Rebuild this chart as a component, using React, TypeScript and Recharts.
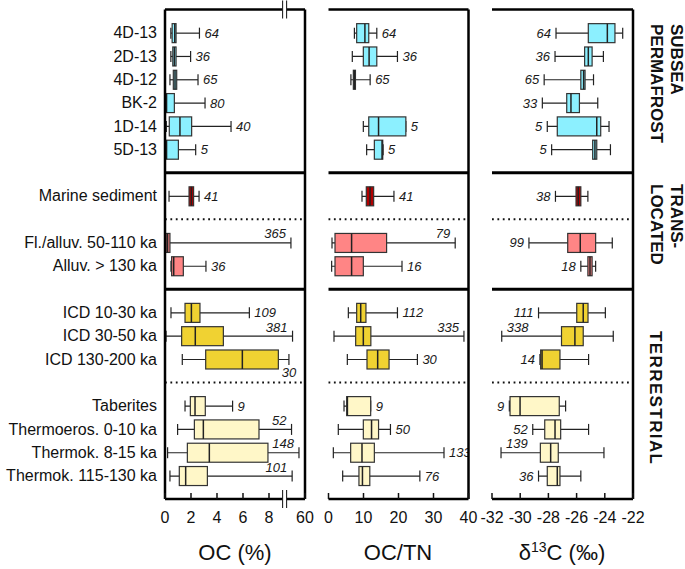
import React from "react";
import { ComposedChart, Bar, XAxis, YAxis, ReferenceLine } from "recharts";

// ---- data ----
const rows = [
  "4D-13",
  "2D-13",
  "4D-12",
  "BK-2",
  "1D-14",
  "5D-13",
  "Marine sediment",
  "Fl./alluv. 50-110 ka",
  "Alluv. > 130 ka",
  "ICD 10-30 ka",
  "ICD 30-50 ka",
  "ICD 130-200 ka",
  "Taberites",
  "Thermoeros. 0-10 ka",
  "Thermok. 8-15 ka",
  "Thermok. 115-130 ka",
];

// [min, q1, median, q3, max]
const ocStats = [
  [0.45, 0.55, 0.75, 0.85, 2.65],
  [0.45, 0.6, 0.72, 0.85, 1.97],
  [0.38, 0.64, 0.77, 0.9, 2.54],
  [0.03, 0.08, 0.12, 0.72, 3.08],
  [0.1, 0.33, 1.15, 2.05, 5.08],
  [0.05, 0.08, 0.12, 1.03, 2.36],
  [0.31, 1.85, 2.03, 2.2, 2.62],
  [0.05, 0.08, 0.2, 0.38, 25],
  [0.46, 0.51, 0.67, 1.41, 3.15],
  [0.46, 1.54, 2.03, 2.69, 6.49],
  [0.08, 1.28, 2.33, 4.49, 29],
  [1.33, 3.13, 5.95, 8.72, 20],
  [1.54, 1.95, 2.31, 3.1, 5.2],
  [0.97, 2.26, 2.95, 7.23, 26.5],
  [0.2, 1.72, 3.41, 7.92, 45],
  [0.38, 1.1, 1.59, 3.26, 28],
];

const cnStats = [
  [7.4, 8.05, 10.4, 11.5, 13.8],
  [6.8, 9.95, 11.6, 13.8, 19.7],
  [6.4, 7.1, 7.4, 7.7, 11.9],
  null,
  [9.95, 11.5, 14.3, 22.1, 22.1],
  [10.9, 13.1, 15.3, 15.5, 15.6],
  [9.57, 10.8, 11.86, 12.9, 18.7],
  [1.0, 1.86, 6.6, 16.6, 36.2],
  [0.9, 1.86, 6.6, 9.95, 21],
  [5.67, 8.05, 9.2, 10.7, 19.7],
  [1.57, 7.76, 9.95, 12.1, 38.7],
  [5.38, 11, 14.05, 17.3, 25.4],
  [4.43, 5.2, 5.4, 12.05, 12.05],
  [2.8, 9.95, 12.3, 14.3, 17.7],
  [1.38, 6.33, 9.57, 13.1, 33],
  [4.05, 8.7, 9.7, 11.8, 26.1],
];

const d13Stats = [
  [-27.46, -25.17, -23.82, -23.28, -22.73],
  [-27.53, -25.43, -25.17, -24.9, -24.1],
  [-28.3, -25.7, -25.5, -25.4, -24.8],
  [-28.43, -26.7, -26.4, -25.8, -24.5],
  [-28.08, -27.37, -24.57, -24.29, -23.7],
  [-27.77, -24.86, -24.7, -24.57, -23.6],
  [-27.5, -26.04, -25.88, -25.7, -25.2],
  [-29.38, -26.63, -25.74, -24.65, -23.47],
  [-25.7, -25.2, -25.05, -24.9, -24.65],
  [-28.7, -25.99, -25.53, -25.19, -23.96],
  [-31.31, -27.07, -26.12, -25.53, -23.4],
  [-28.6, -28.55, -28.45, -27.18, -25.15],
  [-30.77, -30.72, -30.01, -27.23, -26.78],
  [-29.11, -28.26, -27.53, -27.13, -25.15],
  [-31.36, -28.57, -27.84, -27.3, -24.06],
  [-28.7, -28.08, -27.37, -27.18, -25.7],
];

const ocN = [64, 36, 65, 80, 40, 5, 41, 365, 36, 109, 381, 30, 9, 52, 148, 101];
const cnN = [64, 36, 65, null, 5, 5, 41, 79, 16, 112, 335, 30, 9, 50, 133, 76];
const d13N = [64, 36, 65, 33, 5, 5, 38, 99, 18, 111, 338, 14, 9, 52, 139, 36];

const ocTicks = [0, 2, 4, 6, 8, 60];
const cnTicks = [0, 10, 20, 30, 40];
const d13Ticks = [-32, -30, -28, -26, -24, -22];

const groupTitles = [["SUBSEA", "PERMAFROST"], ["TRANS-", "LOCATED"], ["TERRESTRIAL"]];

// ---- styling / layout ----
const FONT = '"Liberation Sans", Arial, Helvetica, sans-serif';
const CYAN = "#8cf0ff";
const DARKRED = "#b00000";
const SALMON = "#ff8585";
const GOLD = "#f0d232";
const CREAM = "#fff7c8";
const fills = [CYAN, CYAN, CYAN, CYAN, CYAN, CYAN, DARKRED, SALMON, SALMON, GOLD, GOLD, GOLD, CREAM, CREAM, CREAM, CREAM];

// where the n label goes: r = right of max, ta = above max, b = below max, l = left of min, tl = above min
const ocPlace = ["r", "r", "r", "r", "r", "r", "r", "ta", "r", "r", "ta", "b", "r", "ta", "ta", "ta"];
const cnPlace = ["r", "r", "r", "r", "r", "r", "r", "ta", "r", "r", "ta", "r", "r", "r", "r", "r"];
const d13Place = ["l", "l", "l", "l", "l", "l", "l", "l", "l", "l", "tl", "l", "l", "l", "tl", "l"];

// row slots (strings are spacers: _g = group border, _d = dotted divider)
const slotOrder: (number | string)[] = [0, 1, 2, 3, 4, 5, "_g1", 6, "_d1", 7, 8, "_g2", 9, 10, 11, "_d2", 12, 13, 14, 15];

const PLOT_TOP = 9.5;
const PLOT_BOTTOM = 499;
const CHART_H = 569;
const SLOT = (PLOT_BOTTOM - PLOT_TOP) / (slotOrder.length + 1);

// broken OC axis: linear up to the break, compressed beyond it up to 60
const OC_BREAK = 9.2;
const OC_END = 10.77;
const ocK = (OC_END - OC_BREAK) / (60 - OC_BREAK);
const ocFwd = (v: number) => (v <= OC_BREAK ? v : OC_BREAK + (v - OC_BREAK) * ocK);
const ocInv = (t: number) => (t <= OC_BREAK ? t : OC_BREAK + (t - OC_BREAK) / ocK);
const ident = (v: number) => v;

function buildData(stats: (number[] | null)[], ns: (number | null)[], place: string[], fwd: (v: number) => number) {
  return slotOrder.map((s) => {
    if (typeof s === "string") return { name: s };
    const st = stats[s];
    return {
      name: rows[s],
      s: st ? st.map(fwd) : null,
      range: st ? [fwd(st[0]), fwd(st[4])] : null,
      n: ns[s],
      place: place[s],
      fill: fills[s],
    };
  });
}

function BoxShape(props: any) {
  const { x, y, width, height, payload } = props;
  const s = payload && payload.s;
  if (!s || !isFinite(x) || !isFinite(width)) return null;
  const lo = s[0];
  const hi = s[4];
  const px = (v: number) => x + (hi === lo ? 0 : ((v - lo) / (hi - lo)) * width);
  const cy = y + height / 2;
  const bh = 9.5;
  const cap = 5.5;
  const xl = px(lo);
  const xh = px(hi);
  let label: React.ReactNode = null;
  if (payload.n != null) {
    const common = { fontFamily: FONT, fontSize: 13, fontStyle: "italic", fill: "#1a1a1a" } as const;
    const p = payload.place;
    if (p === "r") label = <text x={xh + 5} y={cy + 4.5} textAnchor="start" {...common}>{payload.n}</text>;
    else if (p === "ta") label = <text x={xh - 5} y={cy - 4.5} textAnchor="end" {...common}>{payload.n}</text>;
    else if (p === "b") label = <text x={xh} y={cy + 18} textAnchor="middle" {...common}>{payload.n}</text>;
    else if (p === "l") label = <text x={xl - 5} y={cy + 4.5} textAnchor="end" {...common}>{payload.n}</text>;
    else if (p === "tl") label = <text x={xl + 5} y={cy - 4.5} textAnchor="start" {...common}>{payload.n}</text>;
  }
  return (
    <g>
      <line x1={xl} x2={xh} y1={cy} y2={cy} stroke="#222" strokeWidth={1.2} />
      <line x1={xl} x2={xl} y1={cy - cap} y2={cy + cap} stroke="#222" strokeWidth={1.2} />
      <line x1={xh} x2={xh} y1={cy - cap} y2={cy + cap} stroke="#222" strokeWidth={1.2} />
      <rect x={px(s[1])} y={cy - bh} width={Math.max(px(s[3]) - px(s[1]), 0.5)} height={bh * 2} fill={payload.fill} stroke="#333" strokeWidth={1.2} />
      <line x1={px(s[2])} x2={px(s[2])} y1={cy - bh} y2={cy + bh} stroke="#222" strokeWidth={1.5} />
      {label}
    </g>
  );
}

function BreakMark({ x, y }: { x: number; y: number }) {
  return (
    <g>
      <rect x={x - 2} y={y - 2} width={4} height={4} fill="#fff" />
      <line x1={x - 2} x2={x - 2} y1={y - 9} y2={y + 9} stroke="#222" strokeWidth={1.1} />
      <line x1={x + 2} x2={x + 2} y1={y - 9} y2={y + 9} stroke="#222" strokeWidth={1.1} />
    </g>
  );
}

function makeBottomTick(inv: (t: number) => number, breakAt?: number) {
  return (p: any) => {
    const { x, y, payload } = p;
    if (breakAt != null && Math.abs(payload.value - breakAt) < 1e-6) return <BreakMark x={x} y={y} />;
    return (
      <g>
        <line x1={x} x2={x} y1={y} y2={y - 6} stroke="#111" strokeWidth={1.5} />
        <text x={x} y={y + 24} textAnchor="middle" fontFamily={FONT} fontSize={16} fill="#111">
          {Math.round(inv(payload.value))}
        </text>
      </g>
    );
  };
}

function topTick(breakAt: number) {
  return (p: any) => {
    const { x, y, payload } = p;
    if (Math.abs(payload.value - breakAt) < 1e-6) return <BreakMark x={x} y={y} />;
    return <g />;
  };
}

function NameTick(p: any) {
  const { x, y, payload } = p;
  if (String(payload.value).startsWith("_")) return <g />;
  return (
    <text x={x} y={y + 5.5} textAnchor="end" fontFamily={FONT} fontSize={16} fill="#111">
      {payload.value}
    </text>
  );
}

const frame = { stroke: "#000", strokeWidth: 2.5 };

function Panel(props: {
  data: any[];
  domain: [number, number];
  ticks: number[];
  inv: (t: number) => number;
  left: number;
  width: number;
  marginLeft: number;
  marginRight: number;
  names?: boolean;
  breakAt?: number;
}) {
  const { data, domain, ticks, inv, left, width, marginLeft, marginRight, names, breakAt } = props;
  const bottomTicks = breakAt != null ? [...ticks.slice(0, -1), breakAt, ticks[ticks.length - 1]] : ticks;
  return (
    <div style={{ position: "absolute", left, top: 0 }}>
      <ComposedChart
        layout="vertical"
        width={width}
        height={CHART_H}
        data={data}
        margin={{ top: PLOT_TOP - 1, right: marginRight - 1, bottom: 0, left: marginLeft }}
      >
        <XAxis
          type="number"
          domain={domain}
          allowDataOverflow
          ticks={bottomTicks}
          interval={0}
          height={CHART_H - PLOT_BOTTOM}
          axisLine={frame}
          tickLine={false}
          tickSize={0}
          tickMargin={0}
          tick={makeBottomTick(inv, breakAt)}
        />
        <XAxis
          xAxisId="top"
          orientation="top"
          type="number"
          domain={domain}
          allowDataOverflow
          ticks={breakAt != null ? [breakAt] : [domain[0]]}
          interval={0}
          height={1}
          axisLine={frame}
          tickLine={false}
          tickSize={0}
          tickMargin={0}
          tick={breakAt != null ? topTick(breakAt) : () => <g />}
        />
        <YAxis
          type="category"
          dataKey="name"
          width={names ? 165 : 0}
          padding={{ top: SLOT / 2, bottom: SLOT / 2 }}
          interval={0}
          axisLine={frame}
          tickLine={false}
          tickSize={0}
          tickMargin={8}
          tick={names ? NameTick : false}
        />
        <YAxis
          yAxisId="right"
          orientation="right"
          type="category"
          dataKey="name"
          width={1}
          padding={{ top: SLOT / 2, bottom: SLOT / 2 }}
          axisLine={frame}
          tickLine={false}
          tick={() => <g />}
        />
        <ReferenceLine y="_g1" stroke="#000" strokeWidth={3} />
        <ReferenceLine y="_g2" stroke="#000" strokeWidth={3} />
        <ReferenceLine y="_d1" stroke="#111" strokeWidth={2} strokeDasharray="1.8 3.6" />
        <ReferenceLine y="_d2" stroke="#111" strokeWidth={2} strokeDasharray="1.8 3.6" />
        {/* invisible series so the top and right frame axes are in use */}
        <Bar xAxisId="top" yAxisId="right" dataKey="range" barSize={1} isAnimationActive={false} shape={() => <g />} />
        <Bar dataKey="range" barSize={18} isAnimationActive={false} shape={(p: any) => <BoxShape {...p} />} />
      </ComposedChart>
    </div>
  );
}

const groupBox = (i: number) => {
  const lines = groupTitles[i];
  const tops = [24, 184, 0];
  const style: React.CSSProperties = {
    position: "absolute",
    left: 645,
    width: lines.length === 2 ? 41 : 21,
    writingMode: "vertical-rl",
    fontFamily: FONT,
    fontWeight: "bold",
    fontSize: 17,
    lineHeight: lines.length === 2 ? "20.5px" : "21px",
    color: "#111",
    whiteSpace: "nowrap",
  };
  if (i === 2) {
    style.top = 293;
    style.height = 210;
    style.textAlign = "center";
    style.letterSpacing = "1.4px";
  } else {
    style.top = tops[i];
  }
  return (
    <div key={i} style={style}>
      {lines.map((l, k) => (
        <div key={k}>{l}</div>
      ))}
    </div>
  );
};

const titleStyle: React.CSSProperties = {
  position: "absolute",
  top: 540,
  fontFamily: FONT,
  fontSize: 22,
  lineHeight: "26px",
  color: "#111",
  textAlign: "center",
  width: 160,
};

export default function App() {
  const ocData = buildData(ocStats, ocN, ocPlace, ocFwd);
  const cnData = buildData(cnStats, cnN, cnPlace, ident);
  const d13Data = buildData(d13Stats, d13N, d13Place, ident);
  return (
    <div style={{ position: "absolute", left: 0, top: 0, width: 685, height: 569, background: "#fff", overflow: "hidden" }}>
      <Panel data={ocData} domain={[0, OC_END]} ticks={ocTicks.map(ocFwd)} inv={ocInv} left={0} width={320} marginLeft={0} marginRight={15} names breakAt={OC_BREAK} />
      <Panel data={cnData} domain={[0, 40]} ticks={cnTicks} inv={ident} left={320} width={160} marginLeft={8.5} marginRight={11.5} />
      <Panel data={d13Data} domain={[-32, -22]} ticks={d13Ticks} inv={ident} left={480} width={205} marginLeft={12} marginRight={52} />
      {groupTitles.map((_, i) => groupBox(i))}
      <div style={{ ...titleStyle, left: 235 - 80 }}>OC (%)</div>
      <div style={{ ...titleStyle, left: 398 - 80 }}>OC/TN</div>
      <div style={{ ...titleStyle, left: 562 - 80 }}>
        δ<sup style={{ fontSize: 14, verticalAlign: "8px", lineHeight: 0 }}>13</sup>C (‰)
      </div>
    </div>
  );
}
